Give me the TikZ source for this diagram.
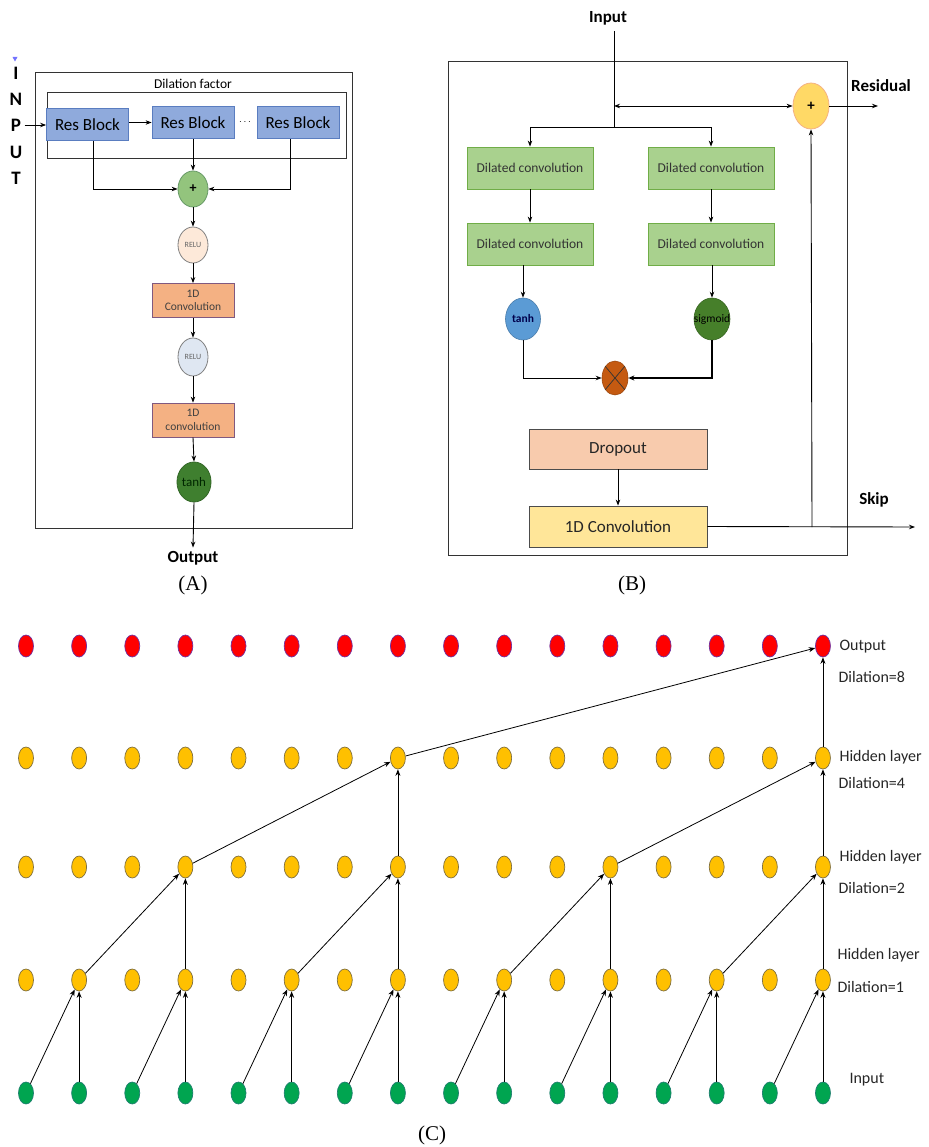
\documentclass[tikz,border=0pt]{standalone}
\usepackage{fontspec}
\setmainfont{Carlito}
\newfontfamily\serifA{Liberation Serif}
\usetikzlibrary{arrows.meta,shapes.geometric,calc}
\newcommand\fsz[1]{\fontsize{#1}{#1}\selectfont}
\definecolor{resf}{HTML}{8FAADC}
\definecolor{resb}{HTML}{5A7DC0}
\definecolor{plusAf}{HTML}{93C47D}
\definecolor{reluAf}{HTML}{FDE9D9}
\definecolor{reluBf}{HTML}{DFE7F2}
\definecolor{convAf}{HTML}{F4B183}
\definecolor{tanhAf}{HTML}{3F7F2F}
\definecolor{dcf}{HTML}{A9D18E}
\definecolor{dcb}{HTML}{70AD47}
\definecolor{tanhBf}{HTML}{5B9BD5}
\definecolor{sigBf}{HTML}{467F2A}
\definecolor{multf}{HTML}{C55A11}
\definecolor{plusBf}{HTML}{FFD966}
\definecolor{dropf}{HTML}{F8CBAD}
\definecolor{convBf}{HTML}{FFE699}
\definecolor{redC}{HTML}{FF0000}
\definecolor{redCb}{HTML}{7030A0}
\definecolor{yelC}{HTML}{FFC000}
\definecolor{yelCb}{HTML}{7F6F3F}
\definecolor{grnC}{HTML}{00A550}
\definecolor{grnCb}{HTML}{1F7F6F}
\tikzset{
  arr/.style={-{Stealth[length=6pt,width=4.5pt]}, line width=0.9pt},
  plain/.style={line width=0.9pt},
  resblk/.style={draw=resb, fill=resf, line width=0.8pt, minimum width=82pt, minimum height=32pt, inner sep=0pt, font=\fsz{17}},
  ellA/.style={ellipse, draw=gray, line width=0.8pt, inner sep=0pt},
  convA/.style={draw=gray!70!violet, fill=convAf, line width=0.8pt, minimum width=82pt, minimum height=34pt, inner sep=0pt, align=center, font=\fsz{11.5}, text=black!75},
  dcbox/.style={draw=dcb, fill=dcf, line width=0.8pt, minimum width=126pt, minimum height=42pt, inner sep=0pt, font=\fsz{13.5}, text=black!80},
  bigbox/.style={draw=black!70, line width=0.8pt, minimum width=178pt, minimum height=41pt, inner sep=0pt, font=\fsz{17}, text=black!85},
  lbl/.style={font=\bfseries\fsz{17}},
  vlet/.style={font=\bfseries\fsz{19}},
  capt/.style={font=\serifA\fsz{21}},
  dotR/.style={ellipse, fill=redC, draw=redCb, line width=0.7pt, minimum width=15pt, minimum height=22pt, inner sep=0pt},
  dotY/.style={ellipse, fill=yelC, draw=yelCb, line width=0.7pt, minimum width=15pt, minimum height=22pt, inner sep=0pt},
  dotG/.style={ellipse, fill=grnC, draw=grnCb, line width=0.7pt, minimum width=15pt, minimum height=22pt, inner sep=0pt},
  arrC/.style={-{Stealth[length=6.5pt,width=5pt]}, line width=0.8pt},
  side/.style={anchor=west, font=\fsz{16}, text=black!85}
}
\begin{document}
\begin{tikzpicture}[x=1pt,y=-1pt]
\useasboundingbox (0,0) rectangle (928,1147);
% ================= Panel A =================
\node[draw=black!80, line width=0.9pt, minimum width=317pt, minimum height=456pt, inner sep=0pt] (frameA) at (193.5,300) {};
\node[draw=black!80, line width=0.9pt, minimum width=299pt, minimum height=66pt, inner sep=0pt] (dilbox) at (196.5,125) {};
\node[font=\fsz{13.5}] (dilt) at (193,84) {Dilation factor};
\fill[blue!55] (12.5,57) -- (17.5,57) -- (15,61.5) -- cycle;
\node[vlet] (iI) at (16,73) {I};
\node[vlet] (iN) at (16,99) {N};
\node[vlet] (iP) at (16,125) {P};
\node[vlet] (iU) at (16,152) {U};
\node[vlet] (iT) at (16,178) {T};
\node[resblk] (r1) at (87.5,124.5) {Res Block};
\node[resblk] (r2) at (193,122.5) {Res Block};
\node[resblk] (r3) at (298,122.5) {Res Block};
\node[font=\fsz{10}] (dots) at (245,122) {$\cdots$};
\draw[arr] (iP.east) -- (iP.east -| r1.west);
\draw[arr] (r1.east |- r2.west) -- (r2.west);
\node[ellA, fill=plusAf, draw=gray!80!green, minimum width=30pt, minimum height=36pt, font=\bfseries\fsz{14}] (pA) at (193,189) {+};
\draw[arr] (r2.south) -- (pA.north);
\draw[arr] ([xshift=5.5pt]r1.south) |- (pA.west);
\draw[arr] ([xshift=-8pt]r3.south) |- (pA.east);
\node[ellA, fill=reluAf, minimum width=30pt, minimum height=36pt, font=\fsz{8}, text=black!60] (relu1) at (193,245) {RELU};
\draw[arr] (pA.south) -- (relu1.north);
\node[convA] (c1) at (193,300.5) {1D\\[2pt]Convolution};
\draw[arr] (relu1.south) -- (c1.north);
\node[ellA, fill=reluBf, minimum width=30pt, minimum height=38pt, font=\fsz{8}, text=black!60] (relu2) at (193,357) {RELU};
\draw[arr] (c1.south) -- (relu2.north);
\node[convA] (c2) at (193,420) {1D\\[2pt]convolution};
\draw[arr] (relu2.south) -- (c2.north);
\node[ellA, fill=tanhAf, draw=tanhAf!80!black, minimum width=32pt, minimum height=40pt, font=\fsz{13}, text=black!85!green] (tanhA) at (194,482) {tanh};
\draw[arr] (c2.south) -- (tanhA.north);
\node[lbl] (outA) at (193,558) {Output};
\draw[arr] (tanhA.south) -- (outA.north);
\node[capt] (capA) at (193,585) {(A)};
% ================= Panel B =================
\node[draw=black!80, line width=0.9pt, minimum width=399pt, minimum height=494pt, inner sep=0pt] (frameB) at (647.5,308) {};
\node[lbl] (inB) at (608,18) {Input};
\coordinate (bin) at (614,31);
\coordinate (bres) at (614,106);
\coordinate (bsplit) at (614,127);
\draw[plain] (bin) -- (bsplit);
\node[ellipse, fill=plusBf, draw=convAf, line width=0.8pt, minimum width=36pt, minimum height=46pt, inner sep=0pt, font=\bfseries\fsz{15}] (plusB) at (811,106) {+};
\draw[{Stealth[length=6pt,width=4.5pt]}-{Stealth[length=6pt,width=4.5pt]}, line width=0.9pt] (bres) -- (plusB.west);
\coordinate (resend) at (878,106);
\draw[arr] (plusB.east) -- (resend);
\node[lbl] (resl) at (881,86) {Residual};
\node[dcbox] (dc1) at (530,168) {Dilated convolution};
\node[dcbox] (dc2) at (711,168) {Dilated convolution};
\node[dcbox] (dc3) at (530,244) {Dilated convolution};
\node[dcbox] (dc4) at (711,244) {Dilated convolution};
\draw[arr] (bsplit) -| (dc1.north);
\draw[arr] (bsplit) -| (dc2.north);
\draw[arr] (dc1.south) -- (dc3.north);
\draw[arr] (dc2.south) -- (dc4.north);
\node[ellipse, fill=tanhBf, draw=tanhBf!80!black, line width=0.6pt, minimum width=35pt, minimum height=42pt, inner sep=0pt, font=\bfseries\fsz{11.5}, text=blue!30!black] (tanhB) at (523,319) {tanh};
\node[ellipse, fill=sigBf, draw=sigBf!80!black, line width=0.6pt, minimum width=36pt, minimum height=42pt, inner sep=0pt] (sigB) at (712,319) {};
\node[font=\fsz{11.5}, text=black, inner sep=0pt] (sigt) at (sigB.center) {sigmoid};
\draw[arr] (dc3.south -| tanhB.north) -- (tanhB.north);
\draw[arr] (dc4.south -| sigB.north) -- (sigB.north);
\node[ellipse, fill=multf, draw=multf!80!black, line width=0.6pt, minimum width=26pt, minimum height=34pt, inner sep=0pt] (multB) at (615,378) {};
\draw[line width=0.7pt, black!80] (multB.50) -- (multB.230) (multB.130) -- (multB.310);
\draw[arr] (tanhB.south) |- (multB.west);
\draw[-{Stealth[length=6pt,width=5pt]}, line width=1.8pt] (sigB.south) |- (multB.east);
\node[bigbox, fill=dropf, minimum height=40pt] (drop) at (618,449) {Dropout};
\node[bigbox, fill=convBf] (convB) at (618,526.5) {1D Convolution};
\draw[arr] (drop.south) -- (convB.north);
\coordinate (skipend) at (915,527);
\coordinate (skipj) at (812,527);
\draw[arr] (convB.east) -- (skipend);
\draw[arr] (skipj) -- (plusB.south);
\node[lbl] (skipl) at (874,500) {Skip};
\node[capt] (capB) at (632,585) {(B)};
% ================= Panel C =================
\foreach \i in {0,...,15}{
  \pgfmathsetmacro\xx{26+53.13*\i}
  \node[dotR] (out\i) at (\xx,646) {};
  \node[dotY] (hf\i) at (\xx,758) {};
  \node[dotY] (ht\i) at (\xx,867) {};
  \node[dotY] (ho\i) at (\xx,980) {};
  \node[dotG] (in\i) at (\xx,1093) {};
}
\foreach \j in {1,3,...,15}{
  \pgfmathtruncatemacro\k{\j-1}
  \draw[arrC] (in\k) -- (ho\j);
  \draw[arrC] (in\j) -- (ho\j);
}
\foreach \j in {3,7,11,15}{
  \pgfmathtruncatemacro\k{\j-2}
  \draw[arrC] (ho\k) -- (ht\j);
  \draw[arrC] (ho\j) -- (ht\j);
}
\foreach \j in {7,15}{
  \pgfmathtruncatemacro\k{\j-4}
  \draw[arrC] (ht\k) -- (hf\j);
  \draw[arrC] (ht\j) -- (hf\j);
}
\draw[arrC] (hf7) -- (out15);
\draw[arrC] (hf15) -- (out15);
\node[side] (l1) at (836,647) {Output};
\node[side] (l2) at (835,677) {Dilation=8};
\node[side] (l3) at (836,757) {Hidden layer};
\node[side] (l4) at (835,783) {Dilation=4};
\node[side] (l5) at (836,857) {Hidden layer};
\node[side] (l6) at (835,888) {Dilation=2};
\node[side] (l7) at (834,955) {Hidden layer};
\node[side] (l8) at (834,987) {Dilation=1};
\node[side] (l9) at (846,1080) {Input};
\node[capt] (capC) at (432,1135) {(C)};
\end{tikzpicture}
\end{document}
